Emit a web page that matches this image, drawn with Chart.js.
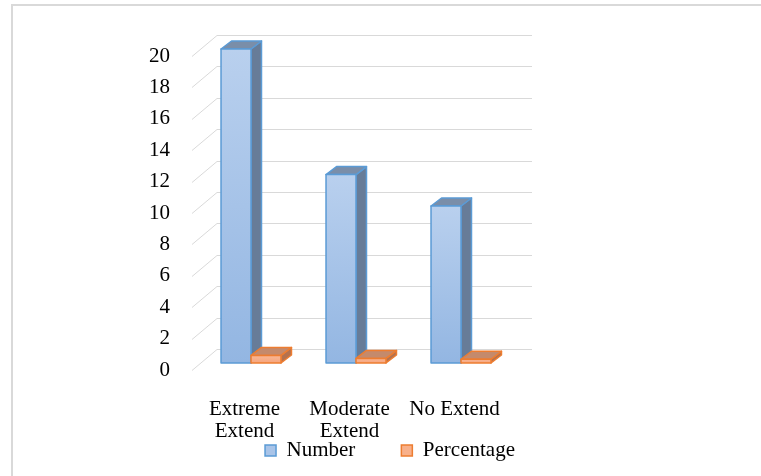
<!DOCTYPE html>
<html>
<head>
<meta charset="utf-8">
<title>Extent chart</title>
<script src="https://cdn.jsdelivr.net/npm/chart.js@4/dist/chart.umd.min.js"></script>
<style>
  html, body { margin: 0; padding: 0; background: #ffffff; }
  #wrap { width: 761px; height: 476px; }
</style>
</head>
<body>
<div id="wrap"><canvas id="chart" width="761" height="476"></canvas></div>
<script>
// Category labels (already split into display lines)
const categories = [['Extreme', 'Extend'], ['Moderate', 'Extend'], 'No Extend'];
// Series values
const numberValues = [20, 12, 10];
const percentageValues = [0.48, 0.29, 0.24];
// Value-axis tick labels
const yTickValues = [0, 2, 4, 6, 8, 10, 12, 14, 16, 18, 20];

const FONT = "'Liberation Serif', 'Times New Roman', serif";

// 3D box: offset of the back wall from the front plane, and of the column faces
const BACK_WALL = { x: 25, y: -21 };
const COLUMN_FRONT = { x: 6.5, y: -7 };
const COLUMN_BACK = { x: 17, y: -15 };

const seriesStyle = [
  { top: '#b9d0ee', bottom: '#93b6e2', side: '#677c98', cap: '#7a8ea9', edge: '#5b9bd5' },
  { top: '#f9b796', bottom: '#f6a47c', side: '#b4724f', cap: '#c48a6c', edge: '#ed7d31' }
];

const frame = {
  id: 'frame',
  beforeDraw(chart) {
    const ctx = chart.ctx;
    ctx.save();
    ctx.strokeStyle = '#d9d9d9';
    ctx.lineWidth = 2;
    ctx.strokeRect(12, 5, 800, 520);
    ctx.restore();
  },
  afterLayout(chart) {
    // legend row: centred under the plot, sitting below the two-line category labels
    const lg = chart.legend;
    if (lg) {
      lg.left = 20;
      lg.right = 760;
      lg.top = 394;
      lg.bottom = 471;
      lg.height = 77;
    }
  }
};

const columns3d = {
  id: 'columns3d',
  beforeDatasetsDraw(chart) {
    const ctx = chart.ctx;
    const x = chart.scales.x, y = chart.scales.y;
    ctx.save();

    // side wall diagonals and back wall gridlines
    ctx.strokeStyle = '#d9d9d9';
    ctx.lineWidth = 1;
    yTickValues.forEach(v => {
      const py = Math.round(y.getPixelForValue(v)) + 0.5;
      ctx.beginPath();
      ctx.moveTo(x.left, py);
      ctx.lineTo(x.left + BACK_WALL.x, py + BACK_WALL.y);
      ctx.lineTo(x.right + BACK_WALL.x, py + BACK_WALL.y);
      ctx.stroke();
    });

    const ex = COLUMN_BACK.x - COLUMN_FRONT.x, ey = COLUMN_BACK.y - COLUMN_FRONT.y;

    const metas = chart.data.datasets.map((_, i) => chart.getDatasetMeta(i));
    for (let c = 0; c < categories.length; c++) {
      metas.forEach((meta, di) => {
        const el = meta.data[c];
        if (!el) return;
        const p = el.getProps(['x', 'y', 'base', 'width'], true);
        const st = seriesStyle[di];
        const x0 = p.x - p.width / 2 + COLUMN_FRONT.x, x1 = p.x + p.width / 2 + COLUMN_FRONT.x;
        const yt = p.y + COLUMN_FRONT.y, yb = p.base + COLUMN_FRONT.y;

        ctx.lineJoin = 'round';
        ctx.lineWidth = 1.5;
        ctx.strokeStyle = st.edge;

        // right side face
        ctx.beginPath();
        ctx.moveTo(x1, yt);
        ctx.lineTo(x1 + ex, yt + ey);
        ctx.lineTo(x1 + ex, yb + ey);
        ctx.lineTo(x1, yb);
        ctx.closePath();
        ctx.fillStyle = st.side;
        ctx.fill();
        ctx.stroke();

        // top face
        ctx.beginPath();
        ctx.moveTo(x0, yt);
        ctx.lineTo(x1, yt);
        ctx.lineTo(x1 + ex, yt + ey);
        ctx.lineTo(x0 + ex, yt + ey);
        ctx.closePath();
        ctx.fillStyle = st.cap;
        ctx.fill();
        ctx.stroke();

        // front face
        const g = ctx.createLinearGradient(0, yt, 0, yb);
        g.addColorStop(0, st.top);
        g.addColorStop(1, st.bottom);
        ctx.fillStyle = g;
        ctx.fillRect(x0, yt, x1 - x0, yb - yt);
        ctx.strokeRect(x0, yt, x1 - x0, yb - yt);
      });
    }
    ctx.restore();
    return false;
  }
};

new Chart(document.getElementById('chart'), {
  type: 'bar',
  data: {
    labels: categories,
    datasets: [
      {
        label: 'Number',
        data: numberValues,
        backgroundColor: '#a9c4e8',
        borderColor: '#5b9bd5',
        borderWidth: 1.5,
        categoryPercentage: 0.571,
        barPercentage: 1.0
      },
      {
        label: 'Percentage',
        data: percentageValues,
        backgroundColor: '#f8b08a',
        borderColor: '#ed7d31',
        borderWidth: 1.5,
        categoryPercentage: 0.571,
        barPercentage: 1.0
      }
    ]
  },
  options: {
    responsive: false,
    animation: false,
    devicePixelRatio: 1,
    layout: { padding: { top: 56, left: 0, right: 254, bottom: 5 } },
    plugins: {
      legend: {
        position: 'bottom',
        align: 'center',
        maxHeight: 21,
        labels: {
          color: '#000000',
          font: { family: FONT, size: 21, lineHeight: 1.05 },
          boxWidth: 11,
          boxHeight: 11,
          padding: 46
        }
      },
      tooltip: { enabled: false },
      title: { display: false }
    },
    scales: {
      x: {
        grid: { display: false },
        border: { display: false },
        ticks: {
          color: '#000000',
          font: { family: FONT, size: 21, lineHeight: 1.05 },
          padding: 20,
          maxRotation: 0,
          autoSkip: false
        },
        afterFit(scale) { scale.height = 80; }
      },
      y: {
        min: 0,
        max: 20,
        grid: { display: false },
        border: { display: false },
        afterBuildTicks(scale) { scale.ticks = yTickValues.map(v => ({ value: v })); },
        ticks: {
          color: '#000000',
          font: { family: FONT, size: 21 },
          padding: 14
        },
        afterFit(scale) { scale.width = 192; }
      }
    }
  },
  plugins: [frame, columns3d]
});
</script>
</body>
</html>
